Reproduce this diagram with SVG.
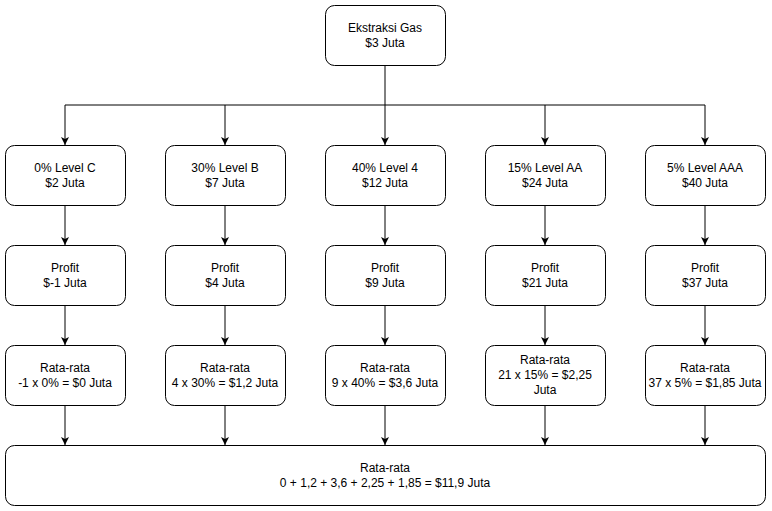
<svg xmlns="http://www.w3.org/2000/svg" width="772" height="511" viewBox="0 0 772 511">
<style>
.box{fill:#fff;stroke:#000;stroke-width:1}
.t{font-family:"Liberation Sans",Arial,sans-serif;font-size:12px;fill:#000;text-anchor:middle}
.c{fill:none;stroke:#000;stroke-width:1}
</style>
<defs>
<marker id="a" viewBox="0 0 10 10" refX="10" refY="5" markerWidth="8" markerHeight="8" markerUnits="userSpaceOnUse" orient="auto">
<path d="M0,0 L10,5 L0,10 L2.5,5 Z" fill="#000"/>
</marker>
</defs>
<rect width="772" height="511" fill="#fff"/>
<g id="connectors">
<path class="c" d="M385,65 V145" marker-end="url(#a)"/>
<path class="c" d="M65,105 H705"/>
<path class="c" d="M65,105 V145" marker-end="url(#a)"/>
<path class="c" d="M225,105 V145" marker-end="url(#a)"/>
<path class="c" d="M545,105 V145" marker-end="url(#a)"/>
<path class="c" d="M705,105 V145" marker-end="url(#a)"/>
<path class="c" d="M65,205 V245" marker-end="url(#a)"/>
<path class="c" d="M225,205 V245" marker-end="url(#a)"/>
<path class="c" d="M385,205 V245" marker-end="url(#a)"/>
<path class="c" d="M545,205 V245" marker-end="url(#a)"/>
<path class="c" d="M705,205 V245" marker-end="url(#a)"/>
<path class="c" d="M65,305 V345" marker-end="url(#a)"/>
<path class="c" d="M225,305 V345" marker-end="url(#a)"/>
<path class="c" d="M385,305 V345" marker-end="url(#a)"/>
<path class="c" d="M545,305 V345" marker-end="url(#a)"/>
<path class="c" d="M705,305 V345" marker-end="url(#a)"/>
<path class="c" d="M65,405 V445" marker-end="url(#a)"/>
<path class="c" d="M225,405 V445" marker-end="url(#a)"/>
<path class="c" d="M385,405 V445" marker-end="url(#a)"/>
<path class="c" d="M545,405 V445" marker-end="url(#a)"/>
<path class="c" d="M705,405 V445" marker-end="url(#a)"/>
</g>
<g id="top"><rect class="box" x="325.5" y="5.5" width="120" height="60" rx="9"/><text class="t" x="385" y="32">Ekstraksi Gas</text><text class="t" x="385" y="47">$3 Juta</text></g>
<g id="l1"><rect class="box" x="5.5" y="145.5" width="120" height="60" rx="9"/><text class="t" x="65" y="172">0% Level C</text><text class="t" x="65" y="187">$2 Juta</text></g>
<g id="l2"><rect class="box" x="165.5" y="145.5" width="120" height="60" rx="9"/><text class="t" x="225" y="172">30% Level B</text><text class="t" x="225" y="187">$7 Juta</text></g>
<g id="l3"><rect class="box" x="325.5" y="145.5" width="120" height="60" rx="9"/><text class="t" x="385" y="172">40% Level 4</text><text class="t" x="385" y="187">$12 Juta</text></g>
<g id="l4"><rect class="box" x="485.5" y="145.5" width="120" height="60" rx="9"/><text class="t" x="545" y="172">15% Level AA</text><text class="t" x="545" y="187">$24 Juta</text></g>
<g id="l5"><rect class="box" x="645.5" y="145.5" width="120" height="60" rx="9"/><text class="t" x="705" y="172">5% Level AAA</text><text class="t" x="705" y="187">$40 Juta</text></g>
<g id="p1"><rect class="box" x="5.5" y="245.5" width="120" height="60" rx="9"/><text class="t" x="65" y="272">Profit</text><text class="t" x="65" y="287">$-1 Juta</text></g>
<g id="p2"><rect class="box" x="165.5" y="245.5" width="120" height="60" rx="9"/><text class="t" x="225" y="272">Profit</text><text class="t" x="225" y="287">$4 Juta</text></g>
<g id="p3"><rect class="box" x="325.5" y="245.5" width="120" height="60" rx="9"/><text class="t" x="385" y="272">Profit</text><text class="t" x="385" y="287">$9 Juta</text></g>
<g id="p4"><rect class="box" x="485.5" y="245.5" width="120" height="60" rx="9"/><text class="t" x="545" y="272">Profit</text><text class="t" x="545" y="287">$21 Juta</text></g>
<g id="p5"><rect class="box" x="645.5" y="245.5" width="120" height="60" rx="9"/><text class="t" x="705" y="272">Profit</text><text class="t" x="705" y="287">$37 Juta</text></g>
<g id="r1"><rect class="box" x="5.5" y="345.5" width="120" height="60" rx="9"/><text class="t" x="65" y="372">Rata-rata</text><text class="t" x="65" y="387">-1 x 0% = $0 Juta</text></g>
<g id="r2"><rect class="box" x="165.5" y="345.5" width="120" height="60" rx="9"/><text class="t" x="225" y="372">Rata-rata</text><text class="t" x="225" y="387">4 x 30% = $1,2 Juta</text></g>
<g id="r3"><rect class="box" x="325.5" y="345.5" width="120" height="60" rx="9"/><text class="t" x="385" y="372">Rata-rata</text><text class="t" x="385" y="387">9 x 40% = $3,6 Juta</text></g>
<g id="r4"><rect class="box" x="485.5" y="345.5" width="120" height="60" rx="9"/><text class="t" x="545" y="364">Rata-rata</text><text class="t" x="545" y="379">21 x 15% = $2,25</text><text class="t" x="545" y="394">Juta</text></g>
<g id="r5"><rect class="box" x="645.5" y="345.5" width="120" height="60" rx="9"/><text class="t" x="705" y="372">Rata-rata</text><text class="t" x="705" y="387">37 x 5% = $1,85 Juta</text></g>
<g id="total"><rect class="box" x="5.5" y="445.5" width="760" height="60" rx="9"/><text class="t" x="385" y="472">Rata-rata</text><text class="t" x="385" y="487">0 + 1,2 + 3,6 + 2,25 + 1,85 = $11,9 Juta</text></g>
</svg>
